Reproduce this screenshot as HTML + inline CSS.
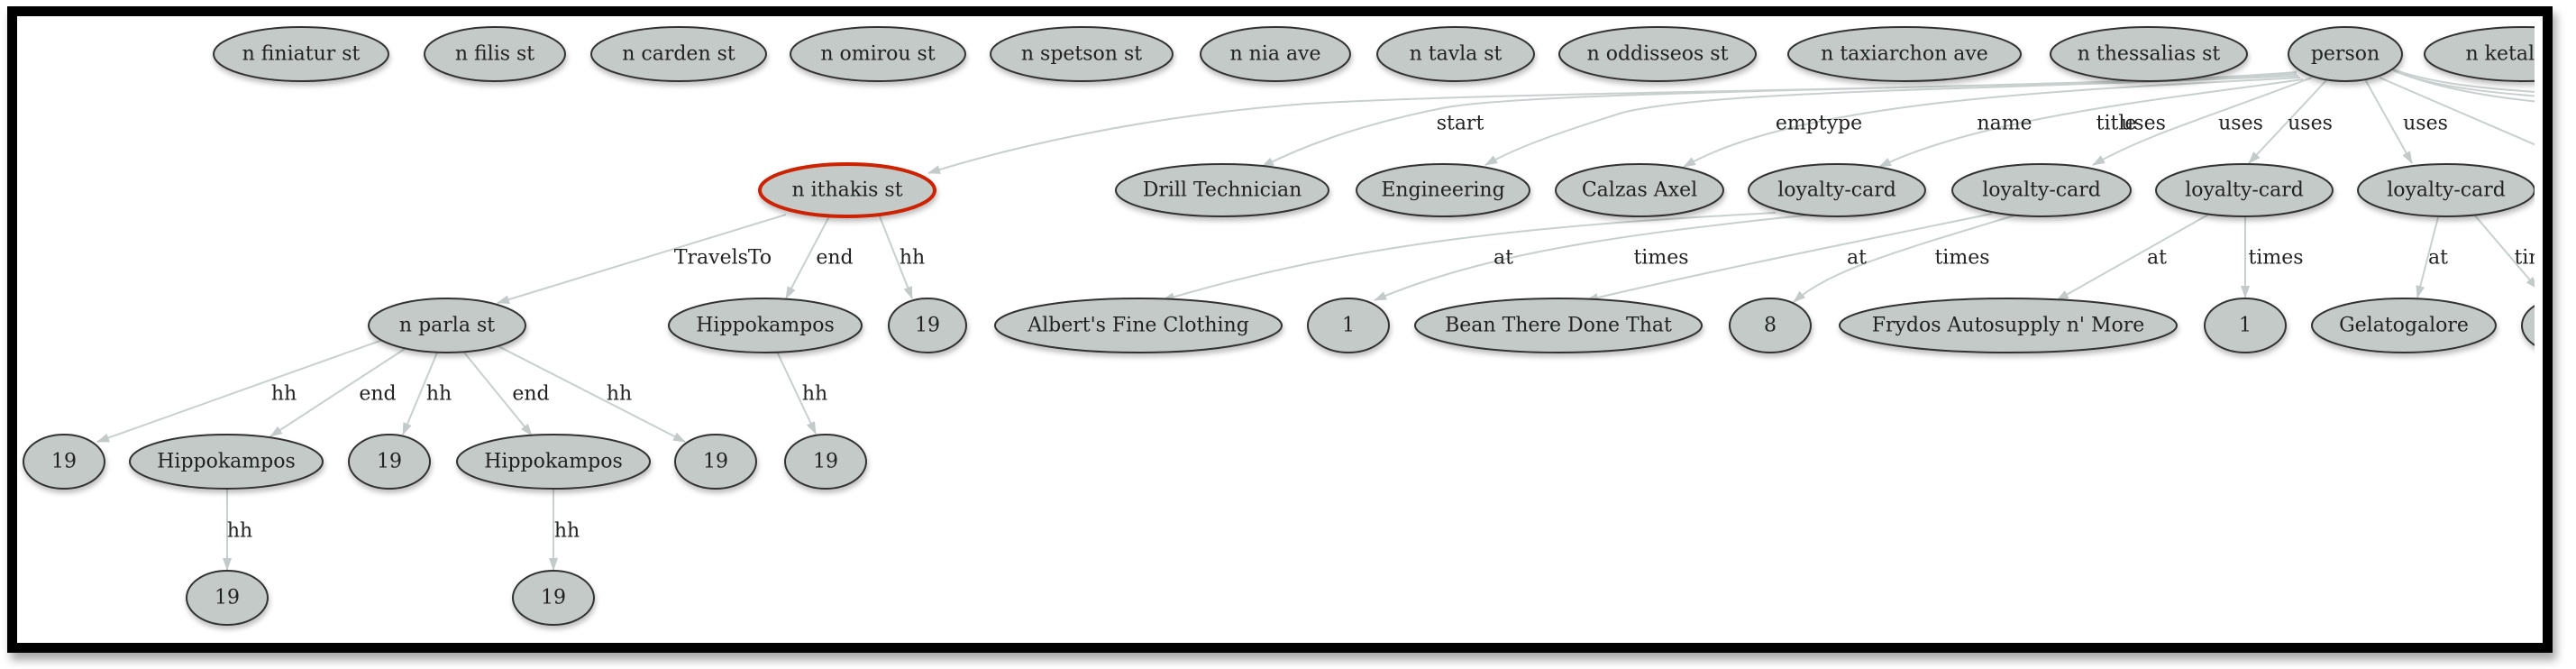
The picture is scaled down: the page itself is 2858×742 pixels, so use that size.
<!DOCTYPE html>
<html><head><meta charset="utf-8"><style>
html,body{margin:0;padding:0;background:#fff;}
svg{display:block;}
text{font-family:"DejaVu Serif","Liberation Serif",serif;font-size:22px;fill:#222;}
</style></head><body>
<svg width="2858" height="742" viewBox="0 0 2858 742" xmlns="http://www.w3.org/2000/svg">
<defs>
<marker id="a" viewBox="0 0 14 10" refX="13" refY="5" markerWidth="14" markerHeight="10" markerUnits="userSpaceOnUse" orient="auto">
<path d="M0,0 L14,5 L0,10 z" fill="#c3cbca"/></marker>
<filter id="sh" x="-20%" y="-20%" width="140%" height="160%"><feDropShadow dx="1" dy="4" stdDeviation="3" flood-color="#000" flood-opacity="0.25"/></filter>
<filter id="fs" x="-5%" y="-5%" width="110%" height="115%"><feDropShadow dx="4" dy="8" stdDeviation="5" flood-color="#000" flood-opacity="0.35"/></filter>
<clipPath id="c"><rect x="19" y="18" width="2793" height="695"/></clipPath>
</defs>
<rect x="13.5" y="12.5" width="2813" height="706" fill="#fff" stroke="#000" stroke-width="11" filter="url(#fs)"/>
<g clip-path="url(#c)">
<g fill="none" stroke="#c8d0cf" stroke-width="2" marker-end="url(#a)">
<path d="M2548,80 C2300,100 1700,100 1450,115 C1250,130 1100,170 1030,192"/>
<path d="M2548,82 C2200,100 1700,100 1600,120 C1500,140 1440,165 1400,185"/>
<path d="M2550,84 C2200,100 1900,100 1800,125 C1720,150 1680,165 1648,183"/>
<path d="M2552,86 C2300,100 2000,110 1868,185"/>
<path d="M2555,88 C2400,110 2200,130 2085,185"/>
<path d="M2565,86 C2450,130 2380,150 2322,183"/>
<path d="M2582,88 L2495,181"/>
<path d="M2624,88 L2676,181"/>
<path d="M872,238 L552,336"/>
<path d="M920,240 L872,331"/>
<path d="M976,240 L1012,331"/>
<path d="M430,375 L108,490"/>
<path d="M452,385 L300,484"/>
<path d="M485,391 L447,482"/>
<path d="M515,391 L590,483"/>
<path d="M545,380 L760,490"/>
<path d="M862,390 L905,481"/>
<path d="M252,543 L252,632"/>
<path d="M614,543 L614,632"/>
<path d="M1970,236 C1700,250 1500,270 1290,333"/>
<path d="M2010,238 C1800,260 1650,280 1525,333"/>
<path d="M2210,237 C2050,270 1900,300 1760,333"/>
<path d="M2235,239 C2100,280 2030,300 1990,335"/>
<path d="M2450,238 L2282,333"/>
<path d="M2491,241 L2491,330"/>
<path d="M2705,241 L2682,330"/>
<path d="M2745,238 L2815,320"/>
</g>
<g fill="none" stroke="#c8d0cf" stroke-width="2">
<path d="M2650,75 C2700,95 2780,100 2830,103"/>
<path d="M2655,78 C2700,98 2780,104 2830,108"/>
<path d="M2660,80 C2710,100 2780,110 2830,114"/>
<path d="M2640,86 L2830,168"/>
</g>
<g fill="#c4cac8" stroke="#333" stroke-width="2" filter="url(#sh)">
<ellipse cx="334" cy="60" rx="97" ry="30"/>
<ellipse cx="549" cy="60" rx="78" ry="30"/>
<ellipse cx="753" cy="60" rx="97" ry="30"/>
<ellipse cx="974" cy="60" rx="97" ry="30"/>
<ellipse cx="1200" cy="60" rx="101" ry="30"/>
<ellipse cx="1415" cy="60" rx="83" ry="30"/>
<ellipse cx="1615" cy="60" rx="87" ry="30"/>
<ellipse cx="1839" cy="60" rx="109" ry="30"/>
<ellipse cx="2113" cy="60" rx="129" ry="30"/>
<ellipse cx="2384" cy="60" rx="109" ry="30"/>
<ellipse cx="2602" cy="60" rx="63" ry="30"/>
<ellipse cx="2800" cy="60" rx="110" ry="30"/>
<ellipse cx="1356" cy="211" rx="118" ry="29"/>
<ellipse cx="1601" cy="211" rx="96" ry="29"/>
<ellipse cx="1819" cy="211" rx="93" ry="29"/>
<ellipse cx="2038" cy="211" rx="98" ry="29"/>
<ellipse cx="2265" cy="211" rx="99" ry="29"/>
<ellipse cx="2490" cy="211" rx="98" ry="29"/>
<ellipse cx="2714" cy="211" rx="98" ry="29"/>
<ellipse cx="496" cy="361" rx="87" ry="30"/>
<ellipse cx="849" cy="361" rx="107" ry="30"/>
<ellipse cx="1029" cy="361" rx="43" ry="30"/>
<ellipse cx="1263" cy="361" rx="159" ry="30"/>
<ellipse cx="1496" cy="361" rx="45" ry="30"/>
<ellipse cx="1729" cy="361" rx="159" ry="30"/>
<ellipse cx="1964" cy="361" rx="45" ry="30"/>
<ellipse cx="2228" cy="361" rx="187" ry="30"/>
<ellipse cx="2491" cy="361" rx="45" ry="30"/>
<ellipse cx="2667" cy="361" rx="102" ry="30"/>
<ellipse cx="2843" cy="361" rx="45" ry="30"/>
<ellipse cx="71" cy="512" rx="45" ry="30"/>
<ellipse cx="251" cy="512" rx="107" ry="30"/>
<ellipse cx="432" cy="512" rx="45" ry="30"/>
<ellipse cx="614" cy="512" rx="107" ry="30"/>
<ellipse cx="794" cy="512" rx="45" ry="30"/>
<ellipse cx="916" cy="512" rx="45" ry="30"/>
<ellipse cx="252" cy="663" rx="45" ry="30"/>
<ellipse cx="614" cy="663" rx="45" ry="30"/>
</g>
<ellipse cx="940" cy="211" rx="97" ry="29" fill="#c4cac8" stroke="#cc2200" stroke-width="4" filter="url(#sh)"/>
<g text-anchor="middle" dominant-baseline="central">
<text x="334" y="60">n finiatur st</text>
<text x="549" y="60">n filis st</text>
<text x="753" y="60">n carden st</text>
<text x="974" y="60">n omirou st</text>
<text x="1200" y="60">n spetson st</text>
<text x="1415" y="60">n nia ave</text>
<text x="1615" y="60">n tavla st</text>
<text x="1839" y="60">n oddisseos st</text>
<text x="2113" y="60">n taxiarchon ave</text>
<text x="2384" y="60">n thessalias st</text>
<text x="2602" y="60">person</text>
<text x="2800" y="60">n ketallis st</text>
<text x="940" y="211">n ithakis st</text>
<text x="1356" y="211">Drill Technician</text>
<text x="1601" y="211">Engineering</text>
<text x="1819" y="211">Calzas Axel</text>
<text x="2038" y="211">loyalty-card</text>
<text x="2265" y="211">loyalty-card</text>
<text x="2490" y="211">loyalty-card</text>
<text x="2714" y="211">loyalty-card</text>
<text x="496" y="361">n parla st</text>
<text x="849" y="361">Hippokampos</text>
<text x="1029" y="361">19</text>
<text x="1263" y="361">Albert's Fine Clothing</text>
<text x="1496" y="361">1</text>
<text x="1729" y="361">Bean There Done That</text>
<text x="1964" y="361">8</text>
<text x="2228" y="361">Frydos Autosupply n' More</text>
<text x="2491" y="361">1</text>
<text x="2667" y="361">Gelatogalore</text>
<text x="2843" y="361">1</text>
<text x="71" y="512">19</text>
<text x="251" y="512">Hippokampos</text>
<text x="432" y="512">19</text>
<text x="614" y="512">Hippokampos</text>
<text x="794" y="512">19</text>
<text x="916" y="512">19</text>
<text x="252" y="663">19</text>
<text x="614" y="663">19</text>
<text x="1620" y="137">start</text>
<text x="2018" y="137">emptype</text>
<text x="2224" y="137">name</text>
<text x="2348" y="137">title</text>
<text x="2378" y="137">uses</text>
<text x="2486" y="137">uses</text>
<text x="2563" y="137">uses</text>
<text x="2691" y="137">uses</text>
<text x="802" y="286">TravelsTo</text>
<text x="926" y="286">end</text>
<text x="1012" y="286">hh</text>
<text x="1668" y="286">at</text>
<text x="1843" y="286">times</text>
<text x="2060" y="286">at</text>
<text x="2177" y="286">times</text>
<text x="2393" y="286">at</text>
<text x="2525" y="286">times</text>
<text x="2705" y="286">at</text>
<text x="2820" y="286">times</text>
<text x="315" y="437">hh</text>
<text x="419" y="437">end</text>
<text x="487" y="437">hh</text>
<text x="589" y="437">end</text>
<text x="687" y="437">hh</text>
<text x="904" y="437">hh</text>
<text x="266" y="589">hh</text>
<text x="629" y="589">hh</text>
</g>
</g>
</svg>
</body></html>
